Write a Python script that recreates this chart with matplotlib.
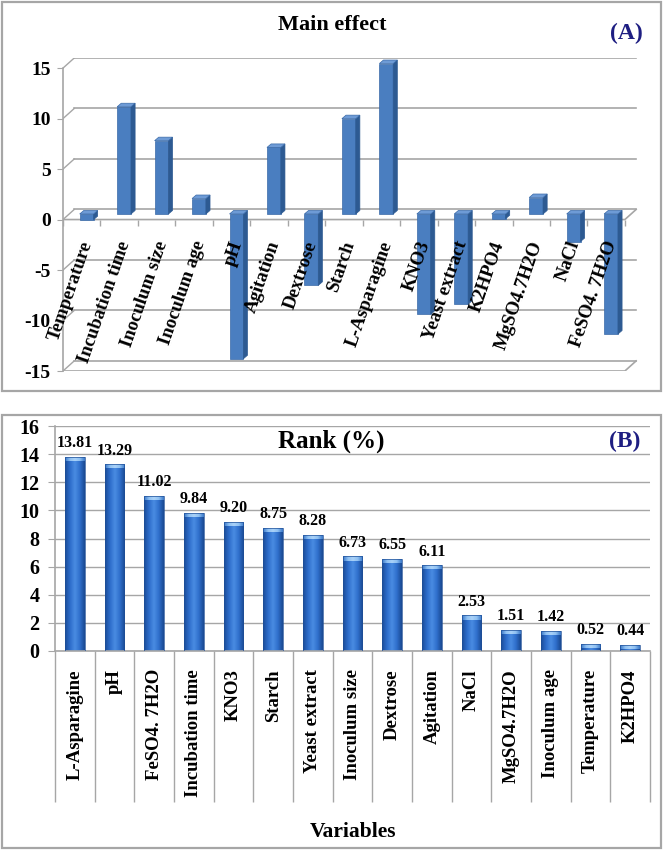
import numpy as np
import matplotlib
matplotlib.use('Agg')
import matplotlib.pyplot as plt
from matplotlib.patches import Rectangle, Polygon
from matplotlib.colors import LinearSegmentedColormap
from matplotlib.markers import TICKDOWN

plt.rcParams['font.family'] = ['Liberation Serif', 'DejaVu Serif']
plt.rcParams['font.weight'] = 'bold'

# (A) main effect of each variable
effect_names = ['Temperature', 'Incubation time', 'Inoculum size', 'Inoculum age', 'pH',
                'Agitation', 'Dextrose', 'Starch', 'L-Asparagine', 'KNO3', 'Yeast extract',
                'K2HPO4', 'MgSO4.7H2O', 'NaCl', 'FeSO4. 7H2O']
effect_values = [-0.56, 10.62, 7.26, 1.53, -14.34, 6.59, -7.07, 9.44, 14.90, -9.93,
                 -8.93, -0.47, 1.63, -2.73, -11.89]
effect_ticks = [-15, -10, -5, 0, 5, 10, 15]

# (B) rank (%)
rank_names = ['L-Asparagine', 'pH', 'FeSO4. 7H2O', 'Incubation time', 'KNO3', 'Starch',
              'Yeast extract', 'Inoculum size', 'Dextrose', 'Agitation', 'NaCl',
              'MgSO4.7H2O', 'Inoculum age', 'Temperature', 'K2HPO4']
rank_values = [13.81, 13.29, 11.02, 9.84, 9.20, 8.75, 8.28, 6.73, 6.55, 6.11,
               2.53, 1.51, 1.42, 0.52, 0.44]
rank_ticks = [0, 2, 4, 6, 8, 10, 12, 14, 16]

W, H = 663, 850
grey = '#A6A6A6'
navy = '#1E1E82'

fig = plt.figure(figsize=(W / 100, H / 100), dpi=100)


def frame(x0, y0, x1, y1):
    # panel border, pixel coords from top-left
    fig.patches.append(Rectangle((x0 / W, 1 - y1 / H), (x1 - x0) / W, (y1 - y0) / H,
                                 transform=fig.transFigure, fill=False,
                                 ec=grey, lw=1.6))


frame(2, 2, 661, 391)
frame(2, 415, 661, 848)

# ---------------- panel A : pseudo 3D column chart ----------------
axA = fig.add_axes([63 / W, 1 - 371 / H, (638 - 63) / W, (371 - 58) / H])
n = len(effect_values)
DX, DY = 0.3, 1.0          # depth of the wall
ox, oy = 0.13, 0.55        # bars sit mid-depth
bw, bdx, bdy = 0.37, 0.11, 0.35

axA.set_xlim(-0.5, n - 0.5 + DX + 0.05)
axA.set_ylim(-15, 16)
for s in ['top', 'right', 'bottom']:
    axA.spines[s].set_visible(False)
axA.spines['left'].set_bounds(-15, 15)
axA.spines['left'].set_color(grey)
axA.spines['left'].set_linewidth(1.2)

x0, x1 = -0.5, n - 0.5
for t in effect_ticks:
    axA.plot([x0 + DX, x1 + DX], [t + DY, t + DY], color=grey, lw=1.2, zorder=1)
    axA.plot([x0, x0 + DX], [t, t + DY], color=grey, lw=1.0, zorder=1)
# floor and zero plane front edges
for t in [-15, 0]:
    axA.plot([x0, x1, x1 + DX], [t, t, t + DY], color=grey, lw=1.2, zorder=1)
axA.plot(np.arange(n + 1) - 0.5, np.zeros(n + 1), ls='none', marker=TICKDOWN,
         ms=4, mew=1.0, color=grey, zorder=1)

for i, v in enumerate(effect_values):
    l = i + ox - bw / 2
    r = i + ox + bw / 2
    axA.add_patch(Rectangle((l, oy), bw, v, fc='#4A7EC0', ec='#3A6AA8', lw=0.5, zorder=3))
    axA.add_patch(Polygon([(r, oy), (r + bdx, oy + bdy), (r + bdx, v + oy + bdy), (r, v + oy)],
                          closed=True, fc='#2D5A92', ec='#2D5A92', lw=0.5, zorder=3))
    top = max(v, 0) + oy
    axA.add_patch(Polygon([(l, top), (l + bdx, top + bdy), (r + bdx, top + bdy), (r, top)],
                          closed=True, fc='#6E9BD6', ec='#3A6AA8', lw=0.5, zorder=4))
    axA.annotate(effect_names[i], xy=(i, 0), xytext=(6, -22), textcoords='offset pixels',
                 rotation=71, rotation_mode='anchor', ha='right', va='center',
                 fontsize=13.5, fontweight='bold', zorder=5)

axA.set_xticks([])
axA.set_yticks(effect_ticks)
axA.set_yticklabels([str(t) for t in effect_ticks])
axA.tick_params(axis='y', length=4, color=grey, pad=5, labelsize=14)

fig.text(332 / W, 1 - 25 / H, 'Main effect', ha='center', va='center',
         fontsize=16, fontweight='bold')
fig.text(626 / W, 1 - 33 / H, '(A)', ha='center', va='center',
         fontsize=17, fontweight='bold', color=navy)

# ---------------- panel B : rank bars ----------------
axB = fig.add_axes([55 / W, 1 - 651 / H, 595 / W, 225 / H])
m = len(rank_values)
xb = np.arange(m)
axB.set_xlim(-0.5, m - 0.5)
axB.set_ylim(0, 16)
axB.set_yticks(rank_ticks)
axB.yaxis.grid(True, color=grey, lw=1.0)
axB.set_axisbelow(True)
for s in ['top', 'right']:
    axB.spines[s].set_visible(False)
for s in ['left', 'bottom']:
    axB.spines[s].set_color(grey)
    axB.spines[s].set_linewidth(1.2)

cyl = LinearSegmentedColormap.from_list('cyl', ['#1B4C98', '#2D6DCB', '#4A8CE2',
                                                '#2F6FCC', '#1A4A92'])
cap = LinearSegmentedColormap.from_list('cap', ['#3A78C8', '#8EC0F2', '#AAD2F8',
                                                '#8EC0F2', '#3A78C8'])
grad = np.linspace(0, 1, 64).reshape(1, -1)
bars = axB.bar(xb, rank_values, width=0.5, color='none', ec='#1E4E96', lw=0.5, zorder=3)
for b, v in zip(bars, rank_values):
    bx, bwid = b.get_x(), b.get_width()
    im = axB.imshow(grad, cmap=cyl, aspect='auto', extent=(bx, bx + bwid, 0, v), zorder=2)
    im.set_clip_path(b)
    ch = min(0.3, v * 0.6)
    capb = axB.bar(bx + bwid / 2, ch, bottom=v - ch, width=bwid, color='none', lw=0, zorder=2)[0]
    im2 = axB.imshow(grad, cmap=cap, aspect='auto', extent=(bx, bx + bwid, v - ch, v), zorder=2.5)
    im2.set_clip_path(capb)
    axB.annotate(f'{v:.2f}', xy=(bx + bwid / 2, v), xytext=(0, 4), textcoords='offset points',
                 ha='center', va='bottom', fontsize=11.5, fontweight='bold')
axB.set_xlim(-0.5, m - 0.5)
axB.set_ylim(0, 16)

axB.set_xticks(xb)
axB.set_xticklabels(rank_names, rotation=90, va='top', ha='center', fontsize=13.5)
axB.set_xticks(np.arange(m + 1) - 0.5, minor=True)
axB.tick_params(axis='x', which='major', length=0, pad=13)
axB.tick_params(axis='x', which='minor', length=109, color=grey, width=1.0)
axB.tick_params(axis='y', length=5, color=grey, pad=6, labelsize=14.5)

fig.text(331 / W, 1 - 441 / H, 'Rank (%)', ha='center', va='center',
         fontsize=18, fontweight='bold')
fig.text(625 / W, 1 - 441 / H, '(B)', ha='center', va='center',
         fontsize=17, fontweight='bold', color=navy)
fig.text(353 / W, 1 - 832 / H, 'Variables', ha='center', va='center',
         fontsize=15.5, fontweight='bold')

fig.savefig('out.png', dpi=100)
